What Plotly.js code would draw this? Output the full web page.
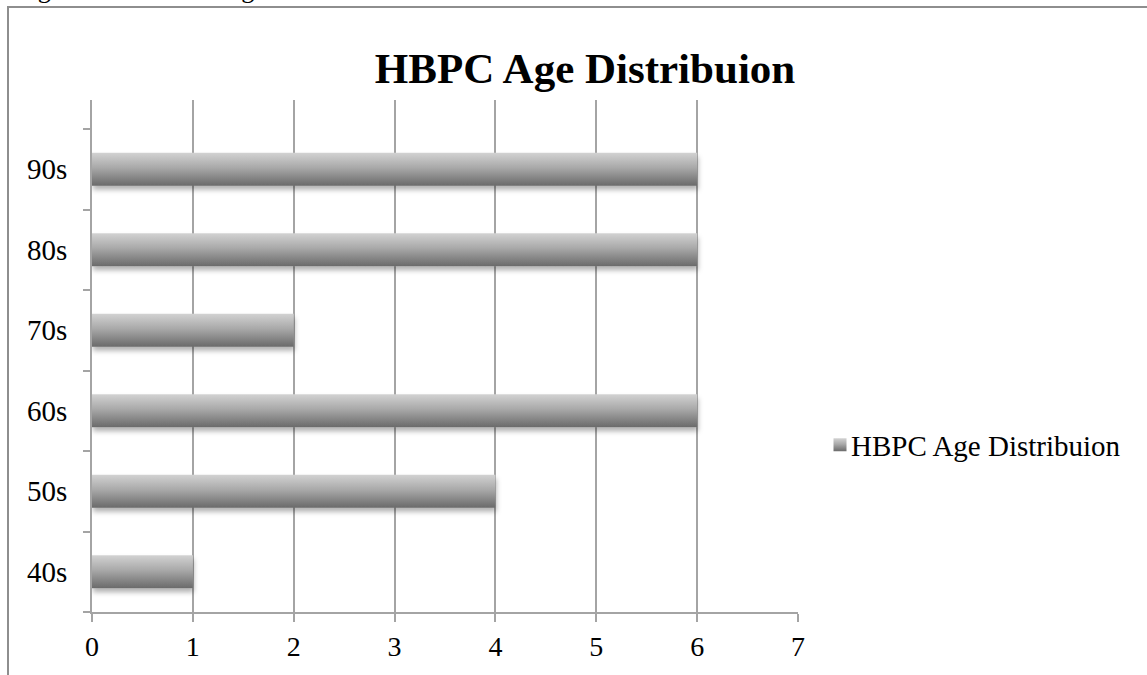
<!DOCTYPE html>
<html>
<head>
<meta charset="utf-8">
<script src="https://cdn.plot.ly/plotly-3.0.1.min.js"></script>
<style>
  html, body { margin: 0; padding: 0; background: #fff; }
  #chart { width: 1147px; height: 675px; }
</style>
</head>
<body>
<div id="chart"></div>
<script>
// Age groups and patient counts
const categories = ['40s', '50s', '60s', '70s', '80s', '90s'];
const counts = [1, 4, 6, 2, 6, 6];
const xTickValues = [0, 1, 2, 3, 4, 5, 6, 7];
const seriesName = 'HBPC Age Distribuion';
const chartTitle = 'HBPC Age Distribuion';
const captionText = 'Figure 3:\u00a0\u00a0\u00a0\u00a0\u00a0\u00a0HBPC Age Distribution';

// Page geometry (pixels)
const W = 1147, H = 675;
const plotLeft = 92, plotRight = 798, plotTop = 100, plotBottom = 612;
const bandPx = 80.5;                       // height of one age band
const pw = plotRight - plotLeft, ph = plotBottom - plotTop;
const px = v => (v - plotLeft) / pw;
const py = v => (plotBottom - v) / ph;
const yTop = -0.5 + ph / bandPx;

const axisGray = '#a4a4a4';
const serif = '"Liberation Serif", "Times New Roman", serif';

const trace = {
  type: 'bar',
  orientation: 'h',
  y: categories,
  x: counts,
  name: seriesName,
  marker: { color: '#9a9a9a', line: { width: 0 } },
  showlegend: true,
  hoverinfo: 'x+y'
};

const layout = {
  width: W,
  height: H,
  margin: { l: plotLeft, r: W - plotRight, t: plotTop, b: H - plotBottom, pad: 0 },
  paper_bgcolor: '#ffffff',
  plot_bgcolor: '#ffffff',
  bargap: 0.59,
  showlegend: true,
  title: {
    text: chartTitle,
    font: { family: serif, size: 43, color: '#000', weight: 'bold' },
    xref: 'container', yref: 'container',
    x: 585 / W, xanchor: 'center',
    y: 1 - 68 / H, yanchor: 'middle'
  },
  xaxis: {
    range: [0, 7],
    tickmode: 'array',
    tickvals: xTickValues,
    ticktext: xTickValues.map(String),
    showgrid: true,
    gridcolor: axisGray,
    gridwidth: 2,
    zeroline: false,
    showline: true,
    linecolor: axisGray,
    linewidth: 2,
    ticks: 'outside',
    ticklen: 8,
    tickwidth: 2,
    tickcolor: axisGray,
    ticklabelstandoff: 0,
    tickfont: { family: serif, size: 28, color: '#000' },
    fixedrange: true
  },
  yaxis: {
    type: 'category',
    categoryorder: 'array',
    categoryarray: categories,
    range: [-0.5, yTop],
    tickson: 'boundaries',
    ticks: 'outside',
    ticklen: 7,
    tickwidth: 2,
    tickcolor: axisGray,
    showgrid: false,
    zeroline: false,
    showline: true,
    linecolor: axisGray,
    linewidth: 2,
    ticklabelstandoff: 17,
    tickfont: { family: serif, size: 29, color: '#000' },
    fixedrange: true
  },
  legend: {
    x: px(811), xanchor: 'left',
    y: py(445), yanchor: 'middle',
    bgcolor: 'rgba(0,0,0,0)',
    borderwidth: 0,
    font: { family: serif, size: 29, color: '#000' }
  },
  shapes: [
    // frame around the figure
    { type: 'line', xref: 'paper', yref: 'paper', layer: 'above',
      x0: px(8), x1: px(W + 2), y0: py(7), y1: py(7),
      line: { color: '#8e8e8e', width: 2 } },
    { type: 'line', xref: 'paper', yref: 'paper', layer: 'above',
      x0: px(8), x1: px(8), y0: py(6), y1: py(H + 2),
      line: { color: '#8e8e8e', width: 2 } }
  ],
  annotations: [
    { text: captionText, showarrow: false,
      xref: 'paper', yref: 'paper',
      x: px(14), xanchor: 'left',
      y: py(6), yanchor: 'bottom',
      font: { family: serif, size: 26, color: '#000' } }
  ]
};

// Shaded bar fill with a soft shadow underneath
function shadeBars(gd) {
  const svg = gd.querySelector('svg.main-svg');
  if (!svg) return;
  const ns = 'http://www.w3.org/2000/svg';
  let defs = svg.querySelector('defs');
  if (!defs) { defs = document.createElementNS(ns, 'defs'); svg.insertBefore(defs, svg.firstChild); }
  if (!svg.querySelector('#barShade')) {
    const g = document.createElementNS(ns, 'linearGradient');
    g.setAttribute('id', 'barShade');
    g.setAttribute('x1', '0'); g.setAttribute('y1', '0');
    g.setAttribute('x2', '0'); g.setAttribute('y2', '1');
    [['0', '#d2d2d2'], ['0.45', '#a9a9a9'], ['1', '#6a6a6a']].forEach(([o, c]) => {
      const s = document.createElementNS(ns, 'stop');
      s.setAttribute('offset', o); s.setAttribute('stop-color', c);
      g.appendChild(s);
    });
    defs.appendChild(g);
    const f = document.createElementNS(ns, 'filter');
    f.setAttribute('id', 'barShadow');
    f.setAttribute('x', '-5%'); f.setAttribute('y', '-20%');
    f.setAttribute('width', '115%'); f.setAttribute('height', '170%');
    const d = document.createElementNS(ns, 'feDropShadow');
    d.setAttribute('dx', '1'); d.setAttribute('dy', '4');
    d.setAttribute('stdDeviation', '2.5');
    d.setAttribute('flood-color', '#000'); d.setAttribute('flood-opacity', '0.3');
    f.appendChild(d);
    defs.appendChild(f);
  }
  gd.querySelectorAll('.barlayer .point path').forEach(p => {
    p.style.fill = 'url(#barShade)';
    p.setAttribute('filter', 'url(#barShadow)');
  });
  // pull the legend swatch closer to its label
  gd.querySelectorAll('.legend .legendpoints').forEach(g => {
    g.setAttribute('transform', 'translate(9,0)');
    g.querySelectorAll('path').forEach(p => {
      p.style.fill = 'url(#barShade)';
      p.setAttribute('d', 'M6.5,6.5H-6.5V-6.5H6.5Z');
    });
  });
}

const gd = document.getElementById('chart');
Plotly.newPlot(gd, [trace], layout, { staticPlot: true, displayModeBar: false }).then(() => {
  shadeBars(gd);
  gd.on('plotly_afterplot', () => shadeBars(gd));
});
</script>
</body>
</html>
